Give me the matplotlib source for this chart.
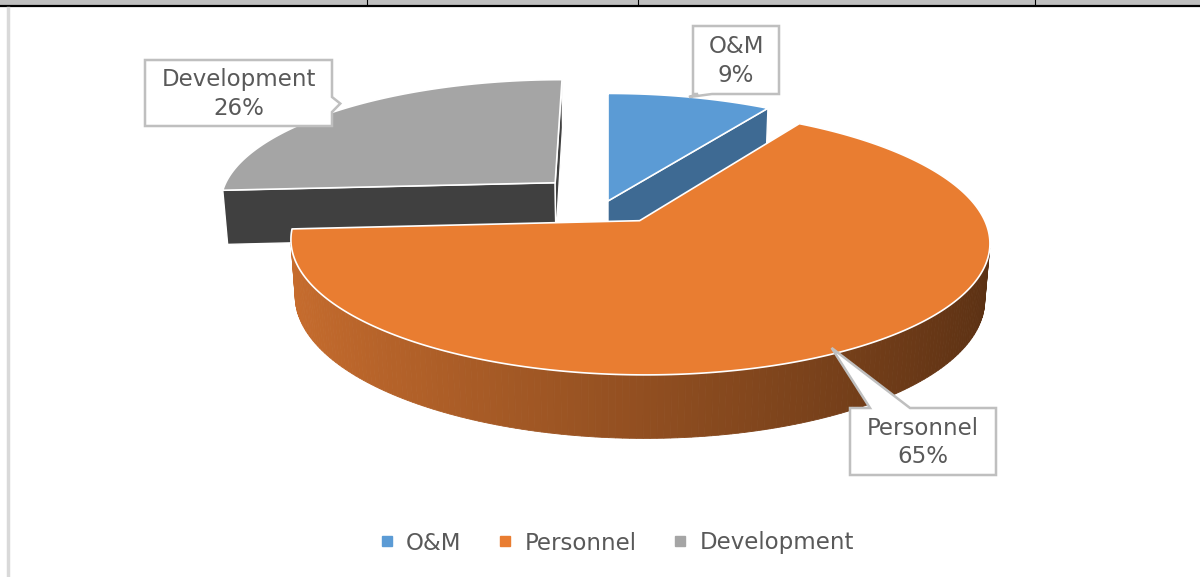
import numpy as np
import matplotlib.pyplot as plt
from matplotlib.patches import Polygon, Rectangle
from matplotlib.lines import Line2D
from matplotlib.colors import to_rgb

# ---- data ----
labels = ["O&M", "Personnel", "Development"]
shares = [9, 65, 26]
top_colors = ["#5B9BD5", "#E97D31", "#A5A5A5"]
side_colors = ["#3E6A93", "#8E4A1E", "#404040"]
wall_light = "#C86D2E"
wall_dark = "#5A3013"
explode = [0.0, 0.18, 0.22]

# ---- 3d projection of the pie (pixel space) ----
CX, CY = 608, 201
SX, SY = 337, 310
BETA = np.arcsin(0.40)
F = 6.0
DEPTH = 0.195
SB, CB = np.sin(BETA), np.cos(BETA)
CAM = np.array([0.0, -F * CB, F * SB])


def project(x, y, z):
    v = y * SB + z * CB
    w = y * CB - z * SB + F
    k = F / w
    return CX + SX * x * k, CY - SY * v * k


def facing(n, p):
    return np.dot(n, CAM - p) > 0


def lerp_color(c1, c2, t):
    a, b = np.array(to_rgb(c1)), np.array(to_rgb(c2))
    return tuple(a + (b - a) * t)


fig = plt.figure(figsize=(12, 5.77), dpi=100)
ax = fig.add_axes([0, 0, 1, 1])
ax.set_xlim(0, 1200)
ax.set_ylim(577, 0)
ax.axis("off")

# slice angles: start at 12 o'clock, clockwise
total = sum(shares)
slices = []
start = 90.0
for i, s in enumerate(shares):
    span = 360.0 * s / total
    a2, a1 = start, start - span
    mid = np.radians((a1 + a2) / 2)
    off = explode[i] * np.array([np.cos(mid), np.sin(mid)])
    w_apex = off[1] * CB + F
    slices.append((i, np.radians(a1), np.radians(a2), off, w_apex))
    start = a1

z = 2
for i, a1, a2, off, _ in sorted(slices, key=lambda t: -t[4]):
    ox, oy = off
    # radial faces
    for ang, nang in ((a2, a2 + np.pi / 2), (a1, a1 - np.pi / 2)):
        n = np.array([np.cos(nang), np.sin(nang), 0])
        p = np.array([ox + 0.5 * np.cos(ang), oy + 0.5 * np.sin(ang), -DEPTH / 2])
        if facing(n, p):
            pts = [project(ox, oy, 0),
                   project(ox + np.cos(ang), oy + np.sin(ang), 0),
                   project(ox + np.cos(ang), oy + np.sin(ang), -DEPTH),
                   project(ox, oy, -DEPTH)]
            ax.add_patch(Polygon(pts, closed=True, fc=side_colors[i], ec="white",
                                 lw=1.0, zorder=z))
            z += 1
    # outer wall
    ts = np.linspace(a1, a2, 240)
    for t0, t1 in zip(ts[:-1], ts[1:]):
        tm = (t0 + t1) / 2
        n = np.array([np.cos(tm), np.sin(tm), 0])
        p = np.array([ox + np.cos(tm), oy + np.sin(tm), -DEPTH / 2])
        if not facing(n, p):
            continue
        if i == 1:
            col = lerp_color(wall_light, wall_dark, (np.cos(tm) + 1) / 2)
        else:
            col = side_colors[i]
        pts = [project(ox + np.cos(t0), oy + np.sin(t0), 0),
               project(ox + np.cos(t1), oy + np.sin(t1), 0),
               project(ox + np.cos(t1), oy + np.sin(t1), -DEPTH),
               project(ox + np.cos(t0), oy + np.sin(t0), -DEPTH)]
        ax.add_patch(Polygon(pts, closed=True, fc=col, ec=col, lw=0.6, zorder=z))
    z += 1
    # top face
    arc = np.linspace(a2, a1, 300)
    pts = [project(ox, oy, 0)] + [project(ox + np.cos(t), oy + np.sin(t), 0) for t in arc]
    ax.add_patch(Polygon(pts, closed=True, fc=top_colors[i], ec="white", lw=1.2,
                         zorder=z, joinstyle="round"))
    z += 1

# ---- callout labels ----
TXT = "#595959"
FS = 16.5
boxes = {0: (693, 26, 779, 94), 1: (850, 408, 996, 475), 2: (145, 60, 332, 126)}
tails = {0: ("bottom", 698, 712, 74, 1.0),
         1: ("top", 870, 910, -61, 0.97),
         2: ("right", 97, 112, 135, 1.05)}

for i, (x0, y0, x1, y1) in boxes.items():
    side, b1, b2, ang, r = tails[i]
    ox, oy = [s for s in slices if s[0] == i][0][3]
    tip = project(ox + r * np.cos(np.radians(ang)), oy + r * np.sin(np.radians(ang)), 0)
    if side == "right":
        verts = [(x0, y0), (x1, y0), (x1, b1), tip, (x1, b2), (x1, y1), (x0, y1)]
    elif side == "bottom":
        verts = [(x0, y0), (x1, y0), (x1, y1), (b2, y1), tip, (b1, y1), (x0, y1)]
    else:
        verts = [(x0, y0), (b1, y0), tip, (b2, y0), (x1, y0), (x1, y1), (x0, y1)]
    ax.add_patch(Polygon(verts, closed=True, fc="white", ec="#BFBFBF", lw=1.8, zorder=50))
    pct = round(100 * shares[i] / total)
    ax.text((x0 + x1) / 2, (y0 + y1) / 2 + 1, f"{labels[i]}\n{pct}%", ha="center",
            va="center", fontsize=FS, color=TXT, linespacing=1.28, zorder=51)

# ---- legend ----
handles = [Line2D([], [], ls="none", marker="s", ms=6.5, mfc=c, mec=c) for c in top_colors]
ax.legend(handles, labels, loc="center", bbox_to_anchor=(617, 543),
          bbox_transform=ax.transData, ncol=3, frameon=False, fontsize=FS,
          labelcolor=TXT, handlelength=0.6, handletextpad=0.55, columnspacing=1.6)

# ---- surrounding table/frame remnants ----
ax.add_patch(Rectangle((0, 0), 1200, 5, fc="#BFBFBF", ec="none", zorder=60))
ax.plot([0, 1200], [5.5, 5.5], color="black", lw=1.6, zorder=61)
for xv in (367, 638, 1035):
    ax.plot([xv, xv], [0, 5], color="black", lw=0.8, zorder=61)
ax.plot([7.5, 7.5], [8, 577], color="#D9D9D9", lw=2.5, zorder=61)

fig.savefig("out.png", dpi=100)
